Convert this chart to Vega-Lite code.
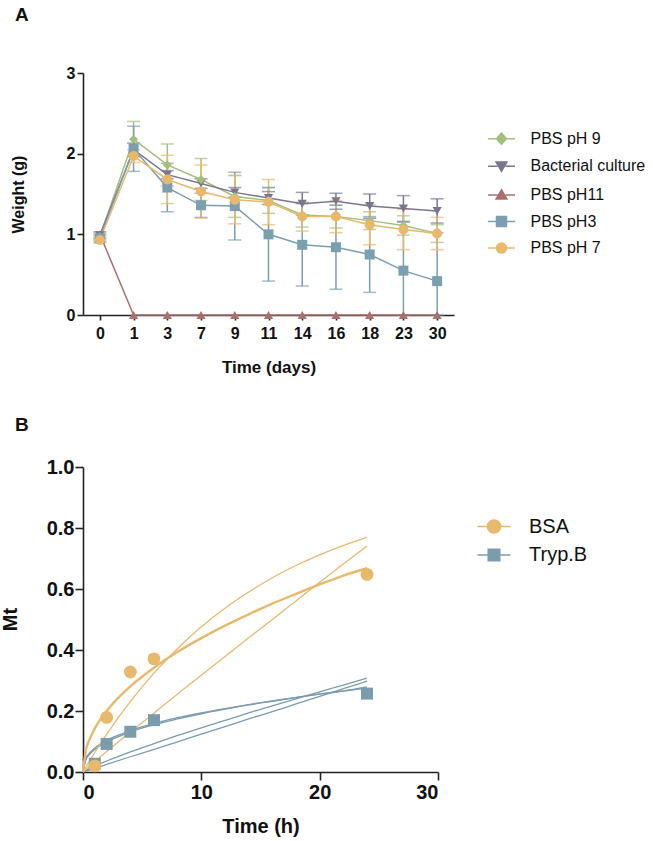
{
  "$schema": "https://vega.github.io/schema/vega-lite/v6.json",
  "background": "white",
  "padding": {"left": 0, "top": 5, "right": 5, "bottom": 5},
  "spacing": 152,
  "bounds": "flush",
  "config": {
    "view": {"stroke": null},
    "axis": {"grid": false, "domainColor": "#222", "domainWidth": 1.6, "tickColor": "#222", "tickWidth": 1.6, "labelFont": "Liberation Sans", "labelFontWeight": "bold", "labelColor": "#111", "titleFont": "Liberation Sans", "titleFontWeight": "bold", "titleColor": "#111"},
    "legend": {"padding": 0, "titlePadding": 0}
  },
  "datasets": {
    "weight": [
      {"series": "PBS pH 9", "day": 0, "weight": 0.97, "lo": 0.93, "hi": 1.01},
      {"series": "PBS pH 9", "day": 1, "weight": 2.18, "lo": 1.96, "hi": 2.40},
      {"series": "PBS pH 9", "day": 3, "weight": 1.86, "lo": 1.60, "hi": 2.12},
      {"series": "PBS pH 9", "day": 7, "weight": 1.68, "lo": 1.42, "hi": 1.94},
      {"series": "PBS pH 9", "day": 9, "weight": 1.47, "lo": 1.21, "hi": 1.73},
      {"series": "PBS pH 9", "day": 11, "weight": 1.42, "lo": 1.26, "hi": 1.58},
      {"series": "PBS pH 9", "day": 14, "weight": 1.24, "lo": 1.09, "hi": 1.39},
      {"series": "PBS pH 9", "day": 16, "weight": 1.22, "lo": 1.08, "hi": 1.36},
      {"series": "PBS pH 9", "day": 18, "weight": 1.17, "lo": 1.06, "hi": 1.28},
      {"series": "PBS pH 9", "day": 23, "weight": 1.11, "lo": 0.99, "hi": 1.23},
      {"series": "PBS pH 9", "day": 30, "weight": 1.01, "lo": 0.90, "hi": 1.12},
      {"series": "Bacterial culture", "day": 0, "weight": 0.99, "lo": 0.95, "hi": 1.03},
      {"series": "Bacterial culture", "day": 1, "weight": 2.05, "lo": 1.97, "hi": 2.13},
      {"series": "Bacterial culture", "day": 3, "weight": 1.74, "lo": 1.69, "hi": 1.79},
      {"series": "Bacterial culture", "day": 7, "weight": 1.63, "lo": 1.57, "hi": 1.69},
      {"series": "Bacterial culture", "day": 9, "weight": 1.52, "lo": 1.46, "hi": 1.58},
      {"series": "Bacterial culture", "day": 11, "weight": 1.45, "lo": 1.37, "hi": 1.53},
      {"series": "Bacterial culture", "day": 14, "weight": 1.38, "lo": 1.24, "hi": 1.52},
      {"series": "Bacterial culture", "day": 16, "weight": 1.41, "lo": 1.31, "hi": 1.51},
      {"series": "Bacterial culture", "day": 18, "weight": 1.35, "lo": 1.20, "hi": 1.50},
      {"series": "Bacterial culture", "day": 23, "weight": 1.32, "lo": 1.16, "hi": 1.48},
      {"series": "Bacterial culture", "day": 30, "weight": 1.29, "lo": 1.14, "hi": 1.44},
      {"series": "PBS pH11", "day": 0, "weight": 1.00, "lo": null, "hi": null},
      {"series": "PBS pH11", "day": 1, "weight": 0, "lo": null, "hi": null},
      {"series": "PBS pH11", "day": 3, "weight": 0, "lo": null, "hi": null},
      {"series": "PBS pH11", "day": 7, "weight": 0, "lo": null, "hi": null},
      {"series": "PBS pH11", "day": 9, "weight": 0, "lo": null, "hi": null},
      {"series": "PBS pH11", "day": 11, "weight": 0, "lo": null, "hi": null},
      {"series": "PBS pH11", "day": 14, "weight": 0, "lo": null, "hi": null},
      {"series": "PBS pH11", "day": 16, "weight": 0, "lo": null, "hi": null},
      {"series": "PBS pH11", "day": 18, "weight": 0, "lo": null, "hi": null},
      {"series": "PBS pH11", "day": 23, "weight": 0, "lo": null, "hi": null},
      {"series": "PBS pH11", "day": 30, "weight": 0, "lo": null, "hi": null},
      {"series": "PBS pH3", "day": 0, "weight": 0.95, "lo": 0.91, "hi": 0.99},
      {"series": "PBS pH3", "day": 1, "weight": 2.06, "lo": 1.78, "hi": 2.34},
      {"series": "PBS pH3", "day": 3, "weight": 1.58, "lo": 1.28, "hi": 1.88},
      {"series": "PBS pH3", "day": 7, "weight": 1.36, "lo": 1.21, "hi": 1.51},
      {"series": "PBS pH3", "day": 9, "weight": 1.35, "lo": 0.93, "hi": 1.77},
      {"series": "PBS pH3", "day": 11, "weight": 1.00, "lo": 0.42, "hi": 1.58},
      {"series": "PBS pH3", "day": 14, "weight": 0.87, "lo": 0.36, "hi": 1.38},
      {"series": "PBS pH3", "day": 16, "weight": 0.84, "lo": 0.32, "hi": 1.36},
      {"series": "PBS pH3", "day": 18, "weight": 0.75, "lo": 0.28, "hi": 1.22},
      {"series": "PBS pH3", "day": 23, "weight": 0.55, "lo": 0, "hi": 1.15},
      {"series": "PBS pH3", "day": 30, "weight": 0.42, "lo": 0, "hi": 1.02},
      {"series": "PBS pH 7", "day": 0, "weight": 0.93, "lo": 0.89, "hi": 0.97},
      {"series": "PBS pH 7", "day": 1, "weight": 1.97, "lo": 1.89, "hi": 2.05},
      {"series": "PBS pH 7", "day": 3, "weight": 1.68, "lo": 1.38, "hi": 1.98},
      {"series": "PBS pH 7", "day": 7, "weight": 1.53, "lo": 1.20, "hi": 1.86},
      {"series": "PBS pH 7", "day": 9, "weight": 1.43, "lo": 1.13, "hi": 1.73},
      {"series": "PBS pH 7", "day": 11, "weight": 1.40, "lo": 1.12, "hi": 1.68},
      {"series": "PBS pH 7", "day": 14, "weight": 1.22, "lo": 1.04, "hi": 1.40},
      {"series": "PBS pH 7", "day": 16, "weight": 1.22, "lo": 1.02, "hi": 1.42},
      {"series": "PBS pH 7", "day": 18, "weight": 1.12, "lo": 0.87, "hi": 1.37},
      {"series": "PBS pH 7", "day": 23, "weight": 1.06, "lo": 0.81, "hi": 1.31},
      {"series": "PBS pH 7", "day": 30, "weight": 1.01, "lo": 0.81, "hi": 1.21}
    ],
    "weight_legend": [
      {"series": "PBS pH 9", "day": 0, "none": null},
      {"series": "Bacterial culture", "day": 0, "none": null},
      {"series": "PBS pH11", "day": 0, "none": null},
      {"series": "PBS pH3", "day": 0, "none": null},
      {"series": "PBS pH 7", "day": 0, "none": null}
    ],
    "release_points": [
      {"sample": "Tryp.B", "time": 1, "mt": 0.027},
      {"sample": "Tryp.B", "time": 2, "mt": 0.092},
      {"sample": "Tryp.B", "time": 4, "mt": 0.132},
      {"sample": "Tryp.B", "time": 6, "mt": 0.170},
      {"sample": "Tryp.B", "time": 24, "mt": 0.257},
      {"sample": "BSA", "time": 1, "mt": 0.020},
      {"sample": "BSA", "time": 2, "mt": 0.179},
      {"sample": "BSA", "time": 4, "mt": 0.328},
      {"sample": "BSA", "time": 6, "mt": 0.371},
      {"sample": "BSA", "time": 24, "mt": 0.648}
    ],
    "release_legend": [
      {"sample": "BSA", "time": 0, "none": null},
      {"sample": "Tryp.B", "time": 0, "none": null}
    ],
    "release_fits": [
      {"sample": "Tryp.B", "curve": "c1", "time": 0, "mt": 0},
      {"sample": "Tryp.B", "curve": "c1", "time": 0.25, "mt": 0.041},
      {"sample": "Tryp.B", "curve": "c1", "time": 0.5, "mt": 0.055},
      {"sample": "Tryp.B", "curve": "c1", "time": 1, "mt": 0.074},
      {"sample": "Tryp.B", "curve": "c1", "time": 2, "mt": 0.098},
      {"sample": "Tryp.B", "curve": "c1", "time": 3, "mt": 0.116},
      {"sample": "Tryp.B", "curve": "c1", "time": 4, "mt": 0.131},
      {"sample": "Tryp.B", "curve": "c1", "time": 6, "mt": 0.155},
      {"sample": "Tryp.B", "curve": "c1", "time": 8, "mt": 0.174},
      {"sample": "Tryp.B", "curve": "c1", "time": 10, "mt": 0.191},
      {"sample": "Tryp.B", "curve": "c1", "time": 12, "mt": 0.206},
      {"sample": "Tryp.B", "curve": "c1", "time": 14, "mt": 0.220},
      {"sample": "Tryp.B", "curve": "c1", "time": 16, "mt": 0.232},
      {"sample": "Tryp.B", "curve": "c1", "time": 18, "mt": 0.244},
      {"sample": "Tryp.B", "curve": "c1", "time": 20, "mt": 0.255},
      {"sample": "Tryp.B", "curve": "c1", "time": 22, "mt": 0.265},
      {"sample": "Tryp.B", "curve": "c1", "time": 24, "mt": 0.275},
      {"sample": "Tryp.B", "curve": "c2", "time": 0, "mt": 0},
      {"sample": "Tryp.B", "curve": "c2", "time": 0.25, "mt": 0.046},
      {"sample": "Tryp.B", "curve": "c2", "time": 0.5, "mt": 0.060},
      {"sample": "Tryp.B", "curve": "c2", "time": 1, "mt": 0.079},
      {"sample": "Tryp.B", "curve": "c2", "time": 2, "mt": 0.104},
      {"sample": "Tryp.B", "curve": "c2", "time": 3, "mt": 0.121},
      {"sample": "Tryp.B", "curve": "c2", "time": 4, "mt": 0.136},
      {"sample": "Tryp.B", "curve": "c2", "time": 6, "mt": 0.159},
      {"sample": "Tryp.B", "curve": "c2", "time": 8, "mt": 0.178},
      {"sample": "Tryp.B", "curve": "c2", "time": 10, "mt": 0.194},
      {"sample": "Tryp.B", "curve": "c2", "time": 12, "mt": 0.208},
      {"sample": "Tryp.B", "curve": "c2", "time": 14, "mt": 0.221},
      {"sample": "Tryp.B", "curve": "c2", "time": 16, "mt": 0.233},
      {"sample": "Tryp.B", "curve": "c2", "time": 18, "mt": 0.245},
      {"sample": "Tryp.B", "curve": "c2", "time": 20, "mt": 0.256},
      {"sample": "Tryp.B", "curve": "c2", "time": 22, "mt": 0.266},
      {"sample": "Tryp.B", "curve": "c2", "time": 24, "mt": 0.279},
      {"sample": "Tryp.B", "curve": "c3", "time": 0, "mt": 0},
      {"sample": "Tryp.B", "curve": "c3", "time": 1, "mt": 0.020},
      {"sample": "Tryp.B", "curve": "c3", "time": 2, "mt": 0.036},
      {"sample": "Tryp.B", "curve": "c3", "time": 4, "mt": 0.066},
      {"sample": "Tryp.B", "curve": "c3", "time": 6, "mt": 0.093},
      {"sample": "Tryp.B", "curve": "c3", "time": 8, "mt": 0.120},
      {"sample": "Tryp.B", "curve": "c3", "time": 10, "mt": 0.145},
      {"sample": "Tryp.B", "curve": "c3", "time": 12, "mt": 0.169},
      {"sample": "Tryp.B", "curve": "c3", "time": 14, "mt": 0.194},
      {"sample": "Tryp.B", "curve": "c3", "time": 16, "mt": 0.217},
      {"sample": "Tryp.B", "curve": "c3", "time": 18, "mt": 0.240},
      {"sample": "Tryp.B", "curve": "c3", "time": 20, "mt": 0.263},
      {"sample": "Tryp.B", "curve": "c3", "time": 22, "mt": 0.285},
      {"sample": "Tryp.B", "curve": "c3", "time": 24, "mt": 0.308},
      {"sample": "Tryp.B", "curve": "c4", "time": 0, "mt": 0},
      {"sample": "Tryp.B", "curve": "c4", "time": 1, "mt": 0.012},
      {"sample": "Tryp.B", "curve": "c4", "time": 2, "mt": 0.025},
      {"sample": "Tryp.B", "curve": "c4", "time": 4, "mt": 0.050},
      {"sample": "Tryp.B", "curve": "c4", "time": 6, "mt": 0.074},
      {"sample": "Tryp.B", "curve": "c4", "time": 8, "mt": 0.099},
      {"sample": "Tryp.B", "curve": "c4", "time": 10, "mt": 0.124},
      {"sample": "Tryp.B", "curve": "c4", "time": 12, "mt": 0.149},
      {"sample": "Tryp.B", "curve": "c4", "time": 14, "mt": 0.174},
      {"sample": "Tryp.B", "curve": "c4", "time": 16, "mt": 0.198},
      {"sample": "Tryp.B", "curve": "c4", "time": 18, "mt": 0.223},
      {"sample": "Tryp.B", "curve": "c4", "time": 20, "mt": 0.248},
      {"sample": "Tryp.B", "curve": "c4", "time": 22, "mt": 0.273},
      {"sample": "Tryp.B", "curve": "c4", "time": 24, "mt": 0.298},
      {"sample": "BSA", "curve": "c1", "time": 0, "mt": 0},
      {"sample": "BSA", "curve": "c1", "time": 0.25, "mt": 0.073},
      {"sample": "BSA", "curve": "c1", "time": 0.5, "mt": 0.102},
      {"sample": "BSA", "curve": "c1", "time": 1, "mt": 0.143},
      {"sample": "BSA", "curve": "c1", "time": 2, "mt": 0.200},
      {"sample": "BSA", "curve": "c1", "time": 3, "mt": 0.244},
      {"sample": "BSA", "curve": "c1", "time": 4, "mt": 0.281},
      {"sample": "BSA", "curve": "c1", "time": 6, "mt": 0.342},
      {"sample": "BSA", "curve": "c1", "time": 8, "mt": 0.394},
      {"sample": "BSA", "curve": "c1", "time": 10, "mt": 0.439},
      {"sample": "BSA", "curve": "c1", "time": 12, "mt": 0.480},
      {"sample": "BSA", "curve": "c1", "time": 14, "mt": 0.517},
      {"sample": "BSA", "curve": "c1", "time": 16, "mt": 0.552},
      {"sample": "BSA", "curve": "c1", "time": 18, "mt": 0.584},
      {"sample": "BSA", "curve": "c1", "time": 20, "mt": 0.615},
      {"sample": "BSA", "curve": "c1", "time": 22, "mt": 0.644},
      {"sample": "BSA", "curve": "c1", "time": 24, "mt": 0.668},
      {"sample": "BSA", "curve": "c2", "time": 0, "mt": 0},
      {"sample": "BSA", "curve": "c2", "time": 1, "mt": 0.064},
      {"sample": "BSA", "curve": "c2", "time": 2, "mt": 0.123},
      {"sample": "BSA", "curve": "c2", "time": 3, "mt": 0.179},
      {"sample": "BSA", "curve": "c2", "time": 4, "mt": 0.231},
      {"sample": "BSA", "curve": "c2", "time": 6, "mt": 0.324},
      {"sample": "BSA", "curve": "c2", "time": 8, "mt": 0.405},
      {"sample": "BSA", "curve": "c2", "time": 10, "mt": 0.476},
      {"sample": "BSA", "curve": "c2", "time": 12, "mt": 0.537},
      {"sample": "BSA", "curve": "c2", "time": 14, "mt": 0.590},
      {"sample": "BSA", "curve": "c2", "time": 16, "mt": 0.637},
      {"sample": "BSA", "curve": "c2", "time": 18, "mt": 0.677},
      {"sample": "BSA", "curve": "c2", "time": 20, "mt": 0.712},
      {"sample": "BSA", "curve": "c2", "time": 22, "mt": 0.742},
      {"sample": "BSA", "curve": "c2", "time": 24, "mt": 0.769},
      {"sample": "BSA", "curve": "c3", "time": 0, "mt": 0},
      {"sample": "BSA", "curve": "c3", "time": 1, "mt": 0.034},
      {"sample": "BSA", "curve": "c3", "time": 2, "mt": 0.067},
      {"sample": "BSA", "curve": "c3", "time": 4, "mt": 0.131},
      {"sample": "BSA", "curve": "c3", "time": 6, "mt": 0.193},
      {"sample": "BSA", "curve": "c3", "time": 8, "mt": 0.256},
      {"sample": "BSA", "curve": "c3", "time": 10, "mt": 0.317},
      {"sample": "BSA", "curve": "c3", "time": 12, "mt": 0.379},
      {"sample": "BSA", "curve": "c3", "time": 14, "mt": 0.440},
      {"sample": "BSA", "curve": "c3", "time": 16, "mt": 0.500},
      {"sample": "BSA", "curve": "c3", "time": 18, "mt": 0.561},
      {"sample": "BSA", "curve": "c3", "time": 20, "mt": 0.622},
      {"sample": "BSA", "curve": "c3", "time": 22, "mt": 0.682},
      {"sample": "BSA", "curve": "c3", "time": 24, "mt": 0.741}
    ]
  },
  "vconcat": [
    {
      "width": 371,
      "height": 242,
      "title": {"text": "A", "anchor": "start", "frame": "group", "dx": -68, "offset": 40.2, "fontSize": 19, "font": "Liberation Sans", "fontWeight": "bold", "color": "#111"},
      "data": {"name": "weight"},
      "encoding": {
        "x": {"field": "day", "type": "ordinal", "title": "Time (days)",
              "scale": {"type": "point", "padding": 0.5, "domain": [0, 1, 3, 7, 9, 11, 14, 16, 18, 23, 30]},
              "axis": {"labelAngle": 0, "labelFontSize": 16, "tickSize": 5, "labelPadding": 5.5, "titleFontSize": 17, "titleY": 44.7}},
        "color": {"field": "series", "type": "nominal", "legend": null,
                  "scale": {"domain": ["Bacterial culture", "PBS pH 7", "PBS pH 9", "PBS pH11", "PBS pH3"],
                            "range": ["#7b7690", "#e9b96b", "#a3c07a", "#a8716e", "#7c9fb0"]}}
      },
      "layer": [
        {"mark": {"type": "rule", "strokeWidth": 1.5},
         "encoding": {"y": {"field": "lo", "type": "quantitative", "title": "Weight (g)",
                            "scale": {"domain": [0, 3]},
                            "axis": {"values": [0, 1, 2, 3], "format": "d", "labelFontSize": 16, "tickSize": 6, "labelPadding": 2, "titleFontSize": 16, "titleX": -56.5, "titleY": 121}},
                      "y2": {"field": "hi"}}},
        {"mark": {"type": "tick", "thickness": 1.5, "size": 13},
         "encoding": {"y": {"field": "lo", "type": "quantitative", "title": "Weight (g)"}}},
        {"mark": {"type": "tick", "thickness": 1.5, "size": 13},
         "encoding": {"y": {"field": "hi", "type": "quantitative", "title": "Weight (g)"}}},
        {"mark": {"type": "line", "strokeWidth": 1.5},
         "encoding": {"y": {"field": "weight", "type": "quantitative", "title": "Weight (g)"}}},
        {"transform": [{"filter": {"field": "series", "equal": "PBS pH11"}}],
         "mark": {"type": "point", "filled": true, "opacity": 1, "size": 85, "shape": "triangle-up"},
         "encoding": {"y": {"field": "weight", "type": "quantitative", "title": "Weight (g)"}}},
        {"transform": [{"filter": {"field": "series", "equal": "Bacterial culture"}}],
         "mark": {"type": "point", "filled": true, "opacity": 1, "size": 85, "shape": "triangle-down"},
         "encoding": {"y": {"field": "weight", "type": "quantitative", "title": "Weight (g)"}}},
        {"transform": [{"filter": {"field": "series", "equal": "PBS pH 9"}}],
         "mark": {"type": "point", "filled": true, "opacity": 1, "size": 80, "shape": "diamond"},
         "encoding": {"y": {"field": "weight", "type": "quantitative", "title": "Weight (g)"}}},
        {"transform": [{"filter": {"field": "series", "equal": "PBS pH3"}}],
         "mark": {"type": "point", "filled": true, "opacity": 1, "size": 100, "shape": "square"},
         "encoding": {"y": {"field": "weight", "type": "quantitative", "title": "Weight (g)"}}},
        {"transform": [{"filter": {"field": "series", "equal": "PBS pH 7"}}],
         "mark": {"type": "point", "filled": true, "opacity": 1, "size": 100, "shape": "circle"},
         "encoding": {"y": {"field": "weight", "type": "quantitative", "title": "Weight (g)"}}},
        {"data": {"name": "weight_legend"},
         "mark": {"type": "point", "filled": true},
         "encoding": {
           "y": {"field": "none", "type": "quantitative", "title": "Weight (g)"},
           "fill": {"field": "series", "type": "nominal",
                    "scale": {"domain": ["PBS pH 9", "Bacterial culture", "PBS pH11", "PBS pH3", "PBS pH 7"],
                              "range": ["#a3c07a", "#7b7690", "#a8716e", "#7c9fb0", "#e9b96b"]},
                    "legend": {"orient": "none", "legendX": 410.5, "legendY": 57.7, "title": null, "symbolSize": 182.25, "symbolStrokeWidth": 1.5, "symbolOpacity": 1, "labelFont": "Liberation Sans", "labelFontSize": 16, "labelColor": "#111", "labelOffset": 21, "rowPadding": 10.6}},
           "stroke": {"field": "series", "type": "nominal",
                      "scale": {"domain": ["PBS pH 9", "Bacterial culture", "PBS pH11", "PBS pH3", "PBS pH 7"],
                                "range": ["#a3c07a", "#7b7690", "#a8716e", "#7c9fb0", "#e9b96b"]},
                      "legend": {"orient": "none", "legendX": 410.5, "legendY": 57.7, "title": null, "symbolSize": 182.25, "symbolStrokeWidth": 1.5, "symbolOpacity": 1, "labelFont": "Liberation Sans", "labelFontSize": 16, "labelColor": "#111", "labelOffset": 21, "rowPadding": 10.6}},
           "shape": {"field": "series", "type": "nominal",
                     "scale": {"domain": ["PBS pH 9", "Bacterial culture", "PBS pH11", "PBS pH3", "PBS pH 7"],
                               "range": ["M-2,0H-0.74M0.74,0H2M0,-0.85L0.74,0L0,0.85L-0.74,0Z",
                                         "M-2,0H-0.6M0.6,0H2M-0.8,-0.62H0.8L0,0.75Z",
                                         "M-2,0H-0.6M0.6,0H2M-0.8,0.62H0.8L0,-0.75Z",
                                         "M-2,0H-0.74M0.74,0H2M-0.74,-0.74H0.74V0.74H-0.74Z",
                                         "M-2,0H-0.74M0.74,0H2M-0.74,0A0.74,0.74,0,1,0,0.74,0A0.74,0.74,0,1,0,-0.74,0Z"]},
                     "legend": {"orient": "none", "legendX": 410.5, "legendY": 57.7, "title": null, "symbolSize": 182.25, "symbolStrokeWidth": 1.5, "symbolOpacity": 1, "labelFont": "Liberation Sans", "labelFontSize": 16, "labelColor": "#111", "labelOffset": 21, "rowPadding": 10.6}}
         }}
      ]
    },
    {
      "width": 355,
      "height": 305,
      "title": {"text": "B", "anchor": "start", "frame": "group", "dx": -68, "offset": 22.5, "fontSize": 19, "font": "Liberation Sans", "fontWeight": "bold", "color": "#111"},
      "encoding": {
        "x": {"field": "time", "type": "quantitative", "title": "Time (h)",
              "scale": {"domain": [0, 30], "nice": false},
              "axis": {"values": [0, 10, 20, 30], "labelFontSize": 20, "tickSize": 8, "labelPadding": 2, "titleFontSize": 20, "titleY": 44}},
        "color": {"field": "sample", "type": "nominal", "legend": null,
                  "scale": {"domain": ["Tryp.B", "BSA"], "range": ["#7b9cad", "#e8b96c"]}}
      },
      "layer": [
        {"data": {"name": "release_fits"},
         "transform": [{"filter": "!(datum.sample === 'BSA' && datum.curve === 'c1')"}],
         "mark": {"type": "line", "strokeWidth": 1.3, "interpolate": "monotone"},
         "encoding": {"y": {"field": "mt", "type": "quantitative", "title": "Mt",
                            "scale": {"domain": [0, 1], "nice": false},
                            "axis": {"values": [0, 0.2, 0.4, 0.6, 0.8, 1.0], "format": ".1f", "labelFontSize": 20, "tickSize": 8, "labelPadding": 1, "titleFontSize": 20, "titleX": -62.5, "titleY": 152}},
                      "detail": {"field": "curve", "type": "nominal"}}},
        {"data": {"name": "release_fits"},
         "transform": [{"filter": "datum.sample === 'BSA' && datum.curve === 'c1'"}],
         "mark": {"type": "line", "strokeWidth": 2.4, "interpolate": "monotone"},
         "encoding": {"y": {"field": "mt", "type": "quantitative", "title": "Mt"}}},
        {"data": {"name": "release_points"},
         "transform": [{"filter": {"field": "sample", "equal": "Tryp.B"}}],
         "mark": {"type": "point", "filled": true, "opacity": 1, "size": 144, "shape": "square"},
         "encoding": {"y": {"field": "mt", "type": "quantitative", "title": "Mt"}}},
        {"data": {"name": "release_points"},
         "transform": [{"filter": {"field": "sample", "equal": "BSA"}}],
         "mark": {"type": "point", "filled": true, "opacity": 1, "size": 165, "shape": "circle"},
         "encoding": {"y": {"field": "mt", "type": "quantitative", "title": "Mt"}}},
        {"data": {"name": "release_legend"},
         "mark": {"type": "point", "filled": true},
         "encoding": {
           "y": {"field": "none", "type": "quantitative", "title": "Mt"},
           "fill": {"field": "sample", "type": "nominal",
                    "scale": {"domain": ["BSA", "Tryp.B"], "range": ["#e8b96c", "#7b9cad"]},
                    "legend": {"orient": "none", "legendX": 401, "legendY": 49.5, "title": null, "symbolSize": 272.25, "symbolStrokeWidth": 1.5, "symbolOpacity": 1, "labelFont": "Liberation Sans", "labelFontSize": 20, "labelColor": "#111", "labelOffset": 25, "rowPadding": 8.5}},
           "stroke": {"field": "sample", "type": "nominal",
                      "scale": {"domain": ["BSA", "Tryp.B"], "range": ["#e8b96c", "#7b9cad"]},
                      "legend": {"orient": "none", "legendX": 401, "legendY": 49.5, "title": null, "symbolSize": 272.25, "symbolStrokeWidth": 1.5, "symbolOpacity": 1, "labelFont": "Liberation Sans", "labelFontSize": 20, "labelColor": "#111", "labelOffset": 25, "rowPadding": 8.5}},
           "shape": {"field": "sample", "type": "nominal",
                     "scale": {"domain": ["BSA", "Tryp.B"],
                               "range": ["M-2,0H-0.8M0.8,0H2M-0.8,0A0.8,0.8,0,1,0,0.8,0A0.8,0.8,0,1,0,-0.8,0Z",
                                         "M-2,0H-0.7M0.7,0H2M-0.7,-0.7H0.7V0.7H-0.7Z"]},
                     "legend": {"orient": "none", "legendX": 401, "legendY": 49.5, "title": null, "symbolSize": 272.25, "symbolStrokeWidth": 1.5, "symbolOpacity": 1, "labelFont": "Liberation Sans", "labelFontSize": 20, "labelColor": "#111", "labelOffset": 25, "rowPadding": 8.5}}
         }}
      ]
    }
  ],
  "resolve": {"scale": {"color": "independent", "fill": "independent", "stroke": "independent", "shape": "independent"}}
}
